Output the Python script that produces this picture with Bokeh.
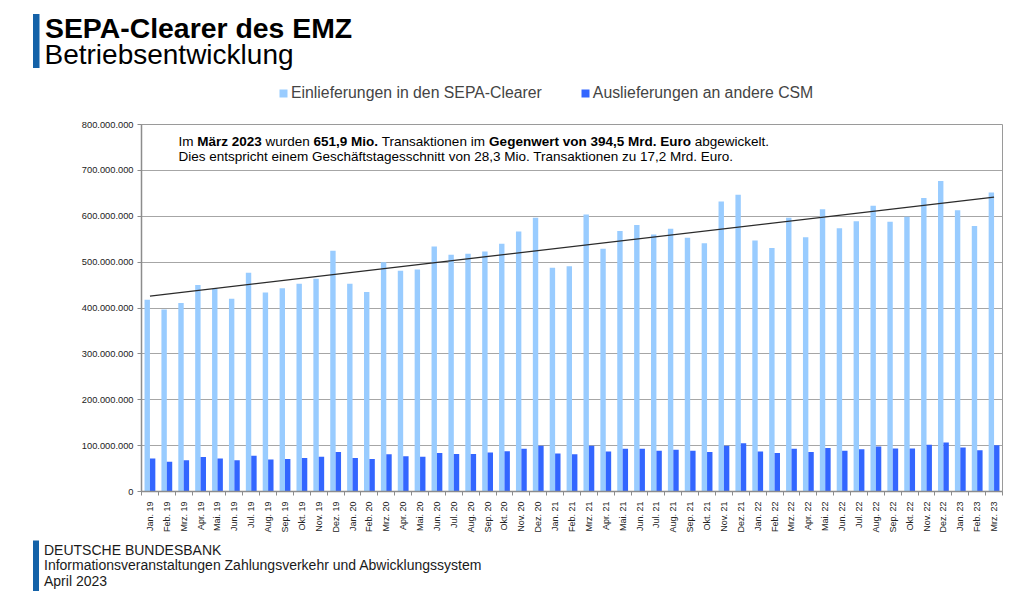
import numpy as np
from bokeh.plotting import figure
from bokeh.layouts import column
from bokeh.models import (Range1d, FixedTicker, CustomJSTickFormatter, Label,
                          Legend, LegendItem, ColumnDataSource)
from bokeh.transform import dodge
from bokeh.embed import file_html
from bokeh.resources import INLINE

# ---------------- data ----------------
months = [
    "Jan. 19", "Feb. 19", "Mrz. 19", "Apr. 19", "Mai. 19", "Jun. 19", "Jul. 19", "Aug. 19", "Sep. 19", "Okt. 19", "Nov. 19", "Dez. 19",
    "Jan. 20", "Feb. 20", "Mrz. 20", "Apr. 20", "Mai. 20", "Jun. 20", "Jul. 20", "Aug. 20", "Sep. 20", "Okt. 20", "Nov. 20", "Dez. 20",
    "Jan. 21", "Feb. 21", "Mrz. 21", "Apr. 21", "Mai. 21", "Jun. 21", "Jul. 21", "Aug. 21", "Sep. 21", "Okt. 21", "Nov. 21", "Dez. 21",
    "Jan. 22", "Feb. 22", "Mrz. 22", "Apr. 22", "Mai. 22", "Jun. 22", "Jul. 22", "Aug. 22", "Sep. 22", "Okt. 22", "Nov. 22", "Dez. 22",
    "Jan. 23", "Feb. 23", "Mrz. 23",
]
# Einlieferungen in den SEPA-Clearer (Mio. Transaktionen)
einlieferungen_mio = [
    418, 397, 411, 450, 442, 420, 477, 434, 443, 453, 464, 525,
    453, 435, 500, 481, 484, 534, 516, 518, 523, 540, 567, 597,
    488, 491, 604, 529, 568, 581, 560, 573, 553, 541, 632, 647,
    547, 531, 597, 554, 615, 574, 589, 623, 588, 599, 640, 677,
    613, 579, 652,
]
# Auslieferungen an andere CSM (Mio. Transaktionen)
auslieferungen_mio = [
    72, 65, 68, 75, 72, 68, 78, 70, 71, 73, 76, 86,
    73, 71, 81, 77, 76, 84, 82, 82, 85, 88, 93, 100,
    83, 81, 100, 87, 93, 93, 89, 91, 89, 86, 100, 105,
    87, 84, 93, 86, 95, 89, 92, 98, 94, 94, 102, 107,
    96, 90, 101,
]
y_ticks = [0, 100e6, 200e6, 300e6, 400e6, 500e6, 600e6, 700e6, 800e6]
series_names = ["Einlieferungen in den SEPA-Clearer", "Auslieferungen an andere CSM"]

title_text = "SEPA-Clearer des EMZ"
subtitle_text = "Betriebsentwicklung"
note_line1 = [("Im ", False), ("März 2023", True), (" wurden ", False), ("651,9 Mio.", True),
              (" Transaktionen im ", False), ("Gegenwert von 394,5 Mrd. Euro", True), (" abgewickelt.", False)]
note_line2 = "Dies entspricht einem Geschäftstagesschnitt von 28,3 Mio. Transaktionen zu 17,2 Mrd. Euro."
footer_lines = ["DEUTSCHE BUNDESBANK",
                "Informationsveranstaltungen Zahlungsverkehr und Abwicklungssystem",
                "April 2023"]

# ---------------- styling / layout ----------------
LIGHT = "#99CCFF"
DARK = "#3366FF"
BRAND = "#1462a8"
FONT = "Liberation Sans"

W = 1024
HEAD_H = 110          # page y 0 .. 110
MAIN_H = 428          # page y 110 .. 538
FOOT_H = 591 - HEAD_H - MAIN_H  # page y 538 .. 591
FL, FR, FT, FB = 141, 1002, 124, 491  # plot frame edges in page pixels
N = len(months)
BASELINE_FIX = 0.36   # rendered alphabetic baseline sits this many em lower; compensate

def dx(px):
    return -0.5 + (px - FL) / (FR - FL) * N

def dy(py):
    return (FB - py) / (FB - FT) * 800e6

def base(py, size):
    return py - BASELINE_FIX * size

# Arial / Liberation Sans advance widths (units per em = 1000)
REG = {" ": 278, "I": 278, "m": 833, "w": 722, "u": 556, "r": 333, "d": 556, "e": 556, "n": 556,
       "T": 611, "a": 556, "s": 500, "k": 500, "t": 278, "i": 222, "o": 556}
BOLD = {" ": 278, "M": 833, "ä": 556, "r": 389, "z": 500, "0": 556, "1": 556, "2": 556, "3": 556,
        "4": 556, "5": 556, "6": 556, "9": 556, ",": 278, "i": 278, "o": 611, ".": 278, "G": 778,
        "e": 556, "g": 611, "n": 611, "w": 778, "t": 333, "v": 556, "d": 611, "E": 667, "u": 611}

def text_width(s, bold, size):
    tbl = BOLD if bold else REG
    return sum(tbl.get(c, 556) for c in s) * size / 1000.0

def blank_figure(height, y_top, y_bottom):
    f = figure(width=W, height=height, output_backend="svg", toolbar_location=None,
               x_range=Range1d(0, W), y_range=Range1d(y_bottom, y_top),
               x_axis_type=None, y_axis_type=None, frame_align=False,
               min_border=0, min_border_left=0, min_border_right=0,
               min_border_top=0, min_border_bottom=0,
               background_fill_color="white", border_fill_color="white")
    f.outline_line_color = None
    f.xgrid.visible = False
    f.ygrid.visible = False
    return f

# ---------------- header ----------------
head = blank_figure(HEAD_H, 0, HEAD_H)
head.quad(left=[32.5], right=[39], top=[13.5], bottom=[67.5], fill_color=BRAND, line_color=None)
head.add_layout(Label(x=44.5, y=base(37.5, 28.4), text=title_text, text_font=FONT, text_font_size="28.4px",
                      text_font_style="bold", text_baseline="alphabetic", text_color="black"))
head.add_layout(Label(x=44, y=base(64, 28), text=subtitle_text, text_font=FONT, text_font_size="28px",
                      text_baseline="alphabetic", text_color="black"))
# legend swatches: renderers whose single (off-canvas) row only serves the legend glyph
lg_src = ColumnDataSource(dict(x=[-1000.0], top=[0.0]))
lg1 = head.vbar(x="x", top="top", width=1, source=lg_src, fill_color=LIGHT, line_color=None)
lg2 = head.vbar(x="x", top="top", width=1, source=lg_src, fill_color=DARK, line_color=None)
legend = Legend(items=[LegendItem(label=series_names[0], renderers=[lg1]),
                       LegendItem(label=series_names[1], renderers=[lg2])],
                orientation="horizontal", location=(278, 8),
                glyph_width=10, glyph_height=10, label_standoff=3, spacing=38,
                label_text_font=FONT, label_text_font_size="15.8px", label_height=16,
                padding=0, margin=0, border_line_color=None, background_fill_alpha=0)
head.add_layout(legend, "center")

# ---------------- main chart ----------------
x = list(range(N))
src = ColumnDataSource(dict(
    x=x,
    ein=[v * 1e6 for v in einlieferungen_mio],
    aus=[v * 1e6 for v in auslieferungen_mio],
))

p = figure(width=W, height=MAIN_H, output_backend="svg", toolbar_location=None,
           x_range=Range1d(-0.5, N - 0.5), y_range=Range1d(0, 800e6), frame_align=False,
           min_border_left=FL, min_border_right=W - FR,
           min_border_top=FT - HEAD_H, min_border_bottom=HEAD_H + MAIN_H - FB,
           background_fill_color="white", border_fill_color="white")
p.outline_line_color = "#9a9a9a"
p.outline_line_width = 1

r1 = p.vbar(x=dodge("x", -0.16), top="ein", width=0.32, source=src,
            fill_color=LIGHT, line_color=None)
r2 = p.vbar(x=dodge("x", 0.16), top="aus", width=0.32, source=src,
            fill_color=DARK, line_color=None)

# linear trend of Einlieferungen
coef = np.polyfit(np.array(x, dtype=float), np.array(einlieferungen_mio, dtype=float) * 1e6, 1)
tx = [0, N - 1]
p.line(tx, [coef[0] * t + coef[1] for t in tx], line_color="#2b2b2b", line_width=1.3)

p.xgrid.grid_line_color = None
p.ygrid.grid_line_color = "#a6a6a6"
p.ygrid.grid_line_width = 1

xa = p.xaxis[0]
xa.ticker = FixedTicker(ticks=x, minor_ticks=[i - 0.5 for i in range(N + 1)])
xa.formatter = CustomJSTickFormatter(args=dict(labels=months),
                                     code="const i = Math.round(tick); return (i >= 0 && i < labels.length) ? labels[i] : '';")
xa.major_label_orientation = np.pi / 2
xa.major_tick_line_color = None
xa.major_tick_out = 0
xa.major_tick_in = 0
xa.minor_tick_line_color = "#8c8c8c"
xa.minor_tick_out = 4
xa.minor_tick_in = 0
xa.major_label_standoff = 6
xa.major_label_text_font = FONT
xa.major_label_text_font_size = "9px"
xa.major_label_text_color = "#222222"
xa.axis_line_color = "#8c8c8c"
xa.axis_line_width = 1.5

ya = p.yaxis[0]
ya.ticker = FixedTicker(ticks=y_ticks)
ya.formatter = CustomJSTickFormatter(code=r"return Math.round(tick).toString().replace(/\B(?=(\d{3})+(?!\d))/g, '.');")
ya.major_tick_line_color = "#8c8c8c"
ya.major_tick_out = 4
ya.major_tick_in = 0
ya.minor_tick_line_color = None
ya.major_label_standoff = 4
ya.major_label_text_font = FONT
ya.major_label_text_font_size = "9.3px"
ya.major_label_text_color = "#222222"
ya.axis_line_color = "#8c8c8c"
ya.axis_line_width = 1.5

# note inside plot (mixed bold pieces laid out with Arial metrics)
NOTE_SIZE = 13.5
cx = 178.0
for piece, bold in note_line1:
    lead = len(piece) - len(piece.lstrip(" "))
    p.add_layout(Label(x=dx(cx + text_width(piece[:lead], bold, NOTE_SIZE)), y=dy(base(146, NOTE_SIZE)),
                       text=piece.strip(" "), text_font=FONT,
                       text_font_size=f"{NOTE_SIZE}px", text_font_style="bold" if bold else "normal",
                       text_baseline="alphabetic", text_color="black"))
    cx += text_width(piece, bold, NOTE_SIZE)
p.add_layout(Label(x=dx(178), y=dy(base(161.3, NOTE_SIZE)), text=note_line2, text_font=FONT,
                   text_font_size=f"{NOTE_SIZE}px", text_baseline="alphabetic", text_color="black"))

# ---------------- footer ----------------
y0 = HEAD_H + MAIN_H
foot = blank_figure(FOOT_H, y0, 591)
foot.quad(left=[32.5], right=[38.5], top=[540], bottom=[591], fill_color=BRAND, line_color=None)
for i, line in enumerate(footer_lines):
    foot.add_layout(Label(x=43.5, y=base(554.5 + i * 15.5, 14), text=line, text_font=FONT,
                          text_font_size="14px", text_baseline="alphabetic", text_color="#1a1a1a"))

layout = column(head, p, foot, spacing=0)
open("out.html", "w").write(file_html(layout, INLINE))
